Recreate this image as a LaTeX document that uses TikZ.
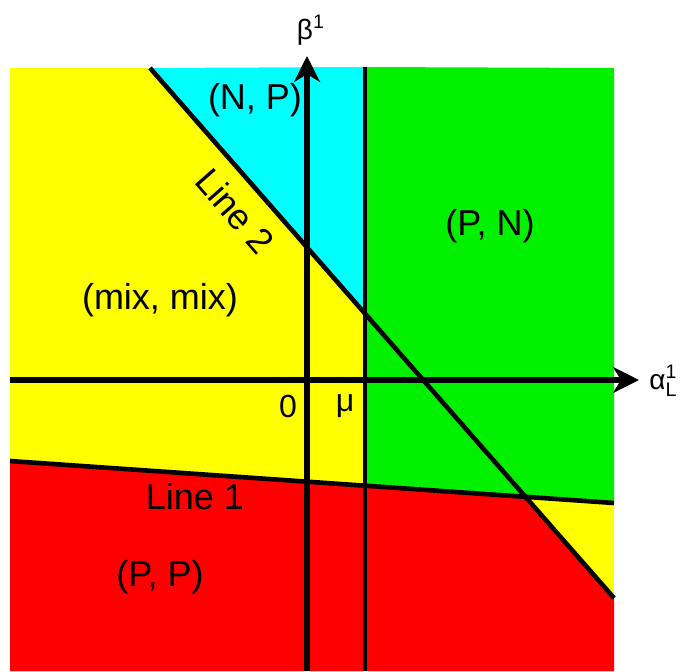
\documentclass[tikz,border=0pt]{standalone}
\usepackage{amsmath}
\usepackage{fontspec}
\setmainfont{Liberation Sans}
\usetikzlibrary{arrows.meta, calc}
\definecolor{cYellow}{RGB}{255,255,0}
\definecolor{cCyan}{RGB}{0,255,255}
\definecolor{cGreen}{RGB}{0,240,0}
\definecolor{cRed}{RGB}{255,0,0}
\tikzset{
	bound/.style    ={line width=2.3pt, black},
	axis/.style     ={line width=3pt, black, -{Stealth[length=13pt, width=13pt, inset=4pt]}},
	region/.style   ={font=\fontsize{18}{20}\selectfont},
	tick/.style     ={font=\fontsize{16}{18}\selectfont},
	axlab/.style    ={font=\fontsize{14}{16}\selectfont, inner sep=0pt},
}

\begin{document}
\begin{tikzpicture}[x=0.5pt, y=-0.5pt]
	\useasboundingbox (0,0) rectangle (681,671);
	% corners and lines
	\coordinate (tl) at (10,68);
	\coordinate (tr) at (614,68);
	\coordinate (bl) at (10,671);
	\coordinate (br) at (614,671);
	\coordinate (l1a) at (10,461);
	\coordinate (l1b) at (614,503);
	\coordinate (l2a) at (150,68);
	\coordinate (l2b) at (614,598);
	\coordinate (mut) at (365,67);
	\coordinate (mub) at (365,671);
	\coordinate (mu2) at (intersection of l2a--l2b and mut--mub);
	\coordinate (mu1) at (intersection of l1a--l1b and mut--mub);
	\coordinate (x12) at (intersection of l1a--l1b and l2a--l2b);
	% regions
	\fill[cYellow] (tl) rectangle (br);
	\fill[cCyan] (l2a) -- (mut) -- (mu2) -- cycle;
	\fill[cGreen] (mut) -- (tr) -- (l1b) -- (mu1) -- cycle;
	\fill[cRed] (l1a) -- (x12) -- (l2b) -- (br) -- (bl) -- cycle;
	% boundaries
	\draw[bound] (l1a) -- (l1b);
	\draw[bound] (l2a) -- (l2b);
	\draw[bound] (mut) -- (mub);
	% axes
	\coordinate (xs) at (10,380);
	\coordinate (xe) at (639,380);
	\coordinate (ys) at (307,671);
	\coordinate (ye) at (307,56);
	\draw[axis] (xs) -- (xe);
	\draw[axis] (ys) -- (ye);
	\node[axlab, anchor=west] (alab) at (649,381) {α$^{\text{1}}_{\text{L}}$};
	\node[axlab] (blab) at (311,30) {β$^{\text{1}}$};
	% labels
	\node[region] (np) at (255,100) {(N, P)};
	\node[region] (pn) at (490,226) {(P, N)};
	\node[region] (mix) at (160,300) {(mix, mix)};
	\node[region] (pp) at (160,577) {(P, P)};
	\node[region] (line1) at (195,497) {Line 1};
	\node[region, rotate=-48.8] (line2) at (235,211) {Line 2};
	\node[tick] (zero) at (288,406) {0};
	\node[tick] (mu) at (345,406) {μ};
\end{tikzpicture}
\end{document}
